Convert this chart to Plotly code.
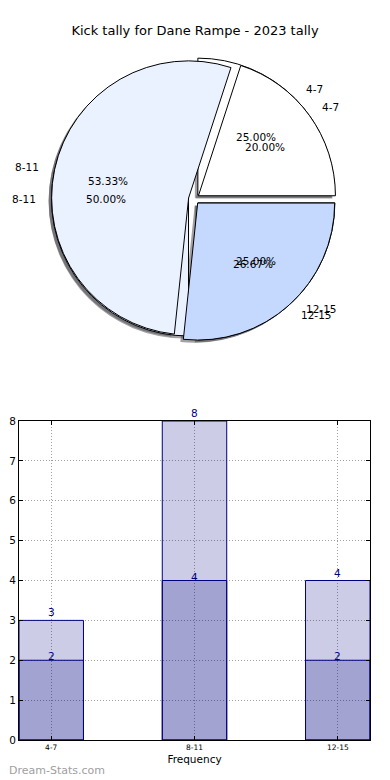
import math
import plotly.graph_objects as go

# ---- data ----
categories = ["4-7", "8-11", "12-15"]
tally_front = [3, 8, 4]   # front pie / light bars
tally_back = [2, 4, 2]    # back pie / dark bars
pie_colors = ["#FFFFFF", "#EAF1FF", "#C5D9FF"]
title_text = "Kick tally for Dane Rampe - 2023 tally"
x_title = "Frequency"
watermark = "Dream-Stats.com"

# ---- geometry / style ----
OFF = 8                      # page body margin of the html output
W, H = 390 - OFF, 780 - OFF  # figure size so that it fills the window
FONT = "DejaVu Sans"
explode = 0.04
cx, cy = 194 - OFF, 199 - OFF   # pie centre (figure px)
r = 137                         # pie radius in px
box = 2 * r * (1 + explode)


def X(px):
    return (px - OFF) / W


def Y(py):
    return 1 - (py - OFF) / H


def dom(cxp, cyp):
    return dict(x=[(cxp - box / 2) / W, (cxp + box / 2) / W],
                y=[1 - (cyp + box / 2) / H, 1 - (cyp - box / 2) / H])


fig = go.Figure()

shadow_col = "rgba(70,70,75,0.5)"
for vals in (tally_back, tally_front):
    fig.add_trace(go.Pie(
        values=vals[::-1], labels=categories[::-1], sort=False,
        direction="clockwise", rotation=90, pull=[explode] * len(vals),
        domain=dom(cx - 3, cy + 2.6),
        marker=dict(colors=[shadow_col] * len(vals), line=dict(width=0)),
        textinfo="none", hoverinfo="skip", showlegend=False))

for vals in (tally_back, tally_front):
    fig.add_trace(go.Pie(
        values=vals[::-1], labels=categories[::-1], sort=False,
        direction="clockwise", rotation=90, pull=[explode] * len(vals),
        domain=dom(cx, cy),
        marker=dict(colors=pie_colors[::-1], line=dict(color="black", width=1)),
        textinfo="none", hoverinfo="skip", showlegend=False))

annotations = []
for vals in (tally_front, tally_back):
    tot = sum(vals)
    start = 0.0
    for lab, v in zip(categories, vals):
        frac = v / tot
        mid = math.radians((start + frac / 2) * 360)
        start += frac
        c, s = math.cos(mid), math.sin(mid)
        lx, ly = cx + (1.1 + explode) * r * c, cy - (1.1 + explode) * r * s
        px_, py_ = cx + (0.6 + explode) * r * c, cy - (0.6 + explode) * r * s
        annotations.append(dict(
            x=lx / W, y=1 - ly / H, xref="paper", yref="paper", text=lab,
            showarrow=False, xanchor="left" if c > 0 else "right", yanchor="middle",
            font=dict(family=FONT, size=10.5, color="black")))
        annotations.append(dict(
            x=px_ / W, y=1 - py_ / H, xref="paper", yref="paper",
            text=f"{frac * 100:.2f}%", showarrow=False, xanchor="center",
            yanchor="middle", font=dict(family=FONT, size=10.5, color="black")))

bar_fill = "rgba(0,0,128,0.2)"
for vals in (tally_front, tally_back):
    fig.add_trace(go.Bar(
        x=categories, y=vals, width=0.45, marker=dict(color=bar_fill,
        line=dict(color="#000080", width=1)), hoverinfo="skip", showlegend=False))

for vals, shift in ((tally_front, 0), (tally_back, -4)):
    for lab, v in zip(categories, vals):
        annotations.append(dict(
            x=lab, y=v, xref="x", yref="y", text=str(v), showarrow=False,
            xanchor="center", yanchor="bottom", yshift=shift,
            font=dict(family=FONT, size=10.5, color="#000080")))

annotations.append(dict(
    x=0, y=Y(770), xref="paper", yref="paper", text=watermark,
    showarrow=False, xanchor="left", yanchor="middle", borderpad=0,
    font=dict(family=FONT, size=11, color="#a0a0a0")))

grid = dict(showgrid=True, gridcolor="#a0a0a0", griddash="1px,2px", gridwidth=1)
fig.update_layout(
    width=W, height=H, margin=dict(l=0, r=0, t=0, b=0),
    paper_bgcolor="white", plot_bgcolor="white", barmode="overlay",
    title=dict(text=title_text, x=X(195), xanchor="center", y=Y(30),
               yanchor="middle", font=dict(family=FONT, size=13, color="black")),
    xaxis=dict(domain=[X(19), X(370)], type="category", range=[-0.225, 2.225],
               showline=True, linecolor="black", linewidth=1, mirror="ticks",
               ticks="inside", ticklen=4, tickcolor="black",
               tickfont=dict(family=FONT, size=7.5, color="black"),
               title=dict(text=x_title, standoff=4,
                          font=dict(family=FONT, size=10.5, color="black")),
               automargin=False, **grid),
    yaxis=dict(domain=[Y(740), Y(421)], range=[0, 8], dtick=1,
               showline=True, linecolor="black", linewidth=1, mirror="ticks",
               ticks="inside", ticklen=4, tickcolor="black", zeroline=False,
               tickfont=dict(family=FONT, size=10.5, color="black"),
               automargin=False, **grid),
    annotations=annotations,
)

fig.write_html("out.html")
